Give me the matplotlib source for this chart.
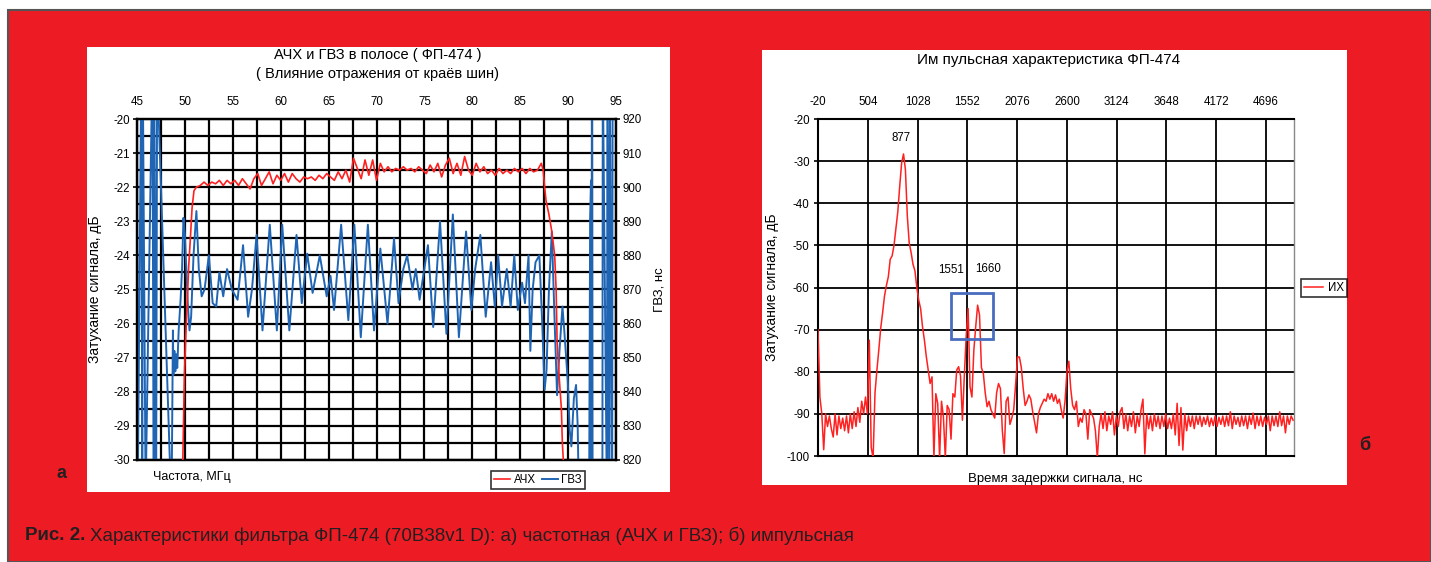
import numpy as np
import matplotlib
matplotlib.use("Agg")
import matplotlib.pyplot as plt
from matplotlib.patches import Rectangle

plt.rcParams["axes.unicode_minus"] = False

# ---------------- DATA ----------------
# Left chart: АЧХ (dB) vs frequency (MHz)
ach_edge_left_f = [49.75, 49.85, 49.95, 50.1, 50.25, 50.4, 50.55, 50.75, 50.95]
ach_edge_left_v = [-30.5, -29.0, -27.5, -26.3, -25.3, -24.3, -23.6, -22.6, -22.1]
ach_band_f0, ach_band_step = 51.2, 0.4
ach_band_v = [-22.0, -21.95, -21.85, -21.95, -21.85, -21.9, -21.8, -21.95, -21.8, -21.9,
              -21.8, -21.95, -21.75, -21.9, -22.05, -21.75, -21.6, -21.95, -21.75, -21.55,
              -21.9, -21.65, -21.8, -21.6, -21.85, -21.6, -21.75, -21.85, -21.7, -21.75,
              -21.7, -21.8, -21.65, -21.75, -21.6, -21.7, -21.8, -21.55, -21.75, -21.5,
              -21.85, -21.15, -21.45, -21.75, -21.2, -21.65, -21.2, -21.8, -21.3, -21.55,
              -21.4, -21.55, -21.45, -21.5, -21.4, -21.5, -21.45, -21.55, -21.4, -21.5,
              -21.6, -21.35, -21.55, -21.3, -21.7, -21.35, -21.15, -21.6, -21.3, -21.65,
              -21.1, -21.5, -21.65, -21.3, -21.55, -21.4, -21.6, -21.5, -21.65, -21.45,
              -21.6, -21.5, -21.6, -21.45, -21.55, -21.45, -21.6, -21.45, -21.55, -21.5,
              -21.3]
ach_edge_right_f = [87.4, 87.55, 87.7, 88.0, 88.3, 88.6, 88.75, 88.85, 89.05, 89.3, 89.4, 89.6]
ach_edge_right_v = [-21.5, -22.0, -22.4, -22.8, -23.3, -24.0, -25.0, -26.5, -27.5, -28.5, -29.5, -30.5]

# Left chart: ГВЗ (ns) vs frequency (MHz)
gvz_f = [45.0, 45.08, 45.45, 45.55, 45.6, 45.9, 46.6, 46.75, 46.8, 47.0, 47.1, 48.6,
         48.75, 48.8, 48.9, 49.0, 49.1, 49.2, 49.35, 49.55, 49.7, 49.85, 50.0, 50.15,
         50.3, 50.48, 50.65, 50.9, 51.2, 51.45, 51.75, 52.05, 52.5, 52.9, 53.27, 53.6,
         54.0, 54.4, 54.9, 55.5, 56.07, 56.6, 57.0, 57.48, 58.1, 58.86, 59.6, 60.16,
         60.9, 61.65, 62.2, 62.77, 63.33, 64.08, 64.8, 65.2, 65.57, 66.31, 67.06, 67.69,
         68.36, 69.1, 69.74, 70.4, 71.15, 71.83, 72.3, 72.8, 73.2, 73.76, 74.1, 74.5,
         75.37, 75.92, 76.63, 77.3, 77.97, 78.6, 79.35, 79.9, 80.3, 80.84, 81.4, 81.96,
         82.35, 82.7, 83.1, 83.6, 84.0, 84.38, 84.75, 85.2, 85.5, 85.87, 86.06, 86.3,
         86.6, 87.0, 87.3, 87.55, 87.75, 88.0, 88.3, 88.6, 88.85, 89.1, 89.41, 89.6,
         89.97, 90.16, 90.34, 90.6, 90.83, 91.0, 91.09, 92.2, 92.3, 92.39, 92.45, 92.5,
         92.55, 93.58, 93.62, 94.06, 94.1, 94.3, 94.35, 94.6, 94.65, 95.0]
gvz_ns = [917, 810, 935, 810, 935, 810, 935, 810, 935, 810, 935, 805,
          858, 845, 852, 846, 851, 847, 858, 867, 876, 891, 886, 876,
          866, 858, 862, 880, 893, 876, 868, 870, 880, 866, 865, 875,
          868, 876, 870, 867, 883, 862, 870, 886, 858, 889, 858, 889,
          858, 886, 866, 880.5, 869, 880, 868, 874, 864, 889, 861, 889,
          856, 889, 858, 882, 860, 885, 866, 876, 880, 870, 876, 867,
          883, 859, 890, 857, 892, 856, 887, 864, 876, 886, 862, 878,
          865, 880, 865, 876, 865, 880, 864, 872, 866, 880, 852, 870,
          878, 880, 860, 840.6, 846.5, 870, 887, 860, 839, 852, 865, 858,
          843, 829, 824, 838, 842, 830, 815, 812, 891, 902, 810, 935,
          805, 810, 935, 805, 935, 805, 935, 805, 935, 935]

# Right chart: ИХ (dB) sampled every 20 ns starting at -20 ns
ih_t0, ih_dt = -20, 20
ih_v = [-70, -86, -90, -98.5, -90, -93, -90.5, -93.5, -95.5, -90,
        -95, -90.5, -93.5, -91, -94, -90.5, -94.5, -90, -93.5, -89.5,
        -93, -88.5, -92, -87, -90, -86, -90, -72.5, -98, -100.5,
        -85, -79.6, -74.8, -69.7, -66, -62, -59.5, -57.5, -53.3, -52.5,
        -50, -46, -42, -36, -30.5, -28.3, -32, -43, -49.4, -51.7,
        -54.5, -56, -60, -63, -65, -69.3, -72.5, -76.4, -79.6, -82.8,
        -81.2, -100.5, -85.2, -87.5, -100.5, -87, -90.7, -100.5, -88, -89,
        -96, -85.2, -86, -79.6, -78.8, -81, -91.5, -81, -71.5, -65,
        -83.6, -86, -75, -69.3, -64.2, -66.5, -79, -80.4, -85, -88.3,
        -87, -89, -90, -91, -85, -82.8, -84, -93.9, -99.4, -87,
        -86, -92.5, -91, -89, -83, -76.5, -76.5, -79, -84, -88,
        -87, -85.5, -86.5, -89.5, -92, -94.5, -90, -88.5, -87.5, -86.5,
        -87, -85.2, -86.5, -85.2, -87, -85.5, -87.5, -86.5, -89, -91,
        -87, -80, -77.5, -84, -88, -89, -87, -93, -91, -92,
        -89, -90, -96, -89, -90, -91, -94, -100.5, -93, -90,
        -93.5, -89.5, -94, -90.5, -92.5, -89.5, -95, -90.5, -93, -89.5,
        -88.5, -93.5, -90, -94, -90.5, -93, -89.5, -94.5, -90.5, -93,
        -89, -86.5, -99.5, -90, -93.5, -90.5, -94, -90, -93, -90.5,
        -93.5, -90.5, -93, -90, -93.5, -91, -93.5, -90, -95, -87.5,
        -97.5, -88.5, -98.6, -90, -94, -90.5, -93, -90.5, -93.5, -90.5,
        -92.5, -90.5, -93, -90.8, -92.5, -90.5, -93, -91, -92.8, -90.5,
        -93, -90.8, -92.5, -90.5, -93, -90.5, -92.8, -89.5, -93.5, -90.5,
        -92.5, -90.8, -93, -90.5, -92.8, -90.5, -93.5, -90.5, -92.5, -89.8,
        -93.5, -90.5, -92.8, -90.5, -93, -90.8, -92.5, -90.5, -94, -90.5,
        -92.8, -90.5, -93, -89.5, -92.8, -90.5, -94.5, -90.5, -92.5, -90.5,
        -91.5]
ih_peak_t = [877, 1551, 1660]
ih_peak_v = [-28.3, -65.0, -64.2]
ih_box = (1375, -72.3, 452, 11.1)   # x, y, width, height in data units

left_xticks = [45, 50, 55, 60, 65, 70, 75, 80, 85, 90, 95]
left_yticks = [-20, -21, -22, -23, -24, -25, -26, -27, -28, -29, -30]
right2_yticks = [920, 910, 900, 890, 880, 870, 860, 850, 840, 830, 820]
ih_xticks = [-20, 504, 1028, 1552, 2076, 2600, 3124, 3648, 4172, 4696]
ih_yticks = [-20, -30, -40, -50, -60, -70, -80, -90, -100]

# ---------------- FIGURE ----------------
W, H = 1431, 562
fig = plt.figure(figsize=(W / 100, H / 100), dpi=100)
fig.patch.set_facecolor("white")

RED = "#ED1C24"
BLUE = "#1F65B4"
LRED = "#FF2020"
TXT = "#231F20"
FONT = ["Liberation Sans", "DejaVu Sans"]
TICK = 8.3

def px(x, y):
    return x / W, 1 - y / H

def rect_px(x0, y0, x1, y1):
    return [x0 / W, 1 - y1 / H, (x1 - x0) / W, (y1 - y0) / H]

# red panel with grey border
fig.patches.append(Rectangle(px(8, 562), (W - 8) / W, (562 - 10) / H, transform=fig.transFigure,
                             facecolor=RED, edgecolor="#555555", linewidth=1.5, zorder=-3))
# white chart backgrounds
for (x0, y0, x1, y1) in [(87, 47, 670, 492), (762, 50, 1347, 485)]:
    r = rect_px(x0, y0, x1, y1)
    fig.patches.append(Rectangle((r[0], r[1]), r[2], r[3], transform=fig.transFigure,
                                 facecolor="white", edgecolor="none", zorder=-2))

# ---------------- LEFT CHART ----------------
axg = fig.add_axes(rect_px(137, 119, 616, 460))
axa = axg.twinx()

gvz_line, = axg.plot(gvz_f, gvz_ns, color=BLUE, lw=1.4, zorder=3)
axg.set_xlim(45, 95)
axg.set_ylim(820, 920)
axg.set_xticks(left_xticks)
axg.set_xticks(np.arange(47.5, 95, 5), minor=True)
axg.set_yticks(right2_yticks)
axg.set_yticks(np.arange(825, 920, 10), minor=True)
axg.grid(True, which="both", color="black", lw=1.6)
axg.set_axisbelow(True)
axg.xaxis.tick_top()
axg.yaxis.tick_right()
axg.yaxis.set_label_position("right")
axg.tick_params(axis="x", which="major", top=False, labeltop=True, bottom=False,
                labelbottom=False, length=0, pad=8, labelsize=TICK)
axg.tick_params(axis="both", which="minor", length=0)
axg.tick_params(axis="y", which="major", right=True, left=False, length=3, width=1.2,
                pad=2, labelsize=TICK, labelright=True, labelleft=False)
axg.set_ylabel("ГВЗ, нс", fontsize=9.5, family=FONT)
axg.yaxis.set_label_coords((653 - 137) / 479, 0.5)

ach_f = ach_edge_left_f + list(ach_band_f0 + ach_band_step * np.arange(len(ach_band_v))) + ach_edge_right_f
ach_v = ach_edge_left_v + ach_band_v + ach_edge_right_v
ach_line, = axa.plot(ach_f, ach_v, color=LRED, lw=1.2, zorder=4)
axa.set_ylim(-30, -20)
axa.set_yticks(left_yticks)
axa.yaxis.tick_left()
axa.yaxis.set_label_position("left")
axa.tick_params(axis="y", which="major", left=True, right=False, labelleft=True,
                labelright=False, length=3, width=1.2, pad=2, labelsize=TICK)
axa.set_ylabel("Затухание сигнала, дБ", fontsize=10, family=FONT)
axa.yaxis.set_label_coords((102 - 137) / 479, 0.5)

for a in (axg, axa):
    for s in a.spines.values():
        s.set_color("black")
        s.set_linewidth(1.6)
    for lab in a.get_xticklabels() + a.get_yticklabels():
        lab.set_family(FONT)

fig.text(*px(378, 55), "АЧХ и ГВЗ в полосе ( ФП-474 )", ha="center", va="center",
         fontsize=10.5, family=FONT, color="black")
fig.text(*px(378, 74), "( Влияние отражения от краёв шин)", ha="center", va="center",
         fontsize=10.5, family=FONT, color="black")
fig.text(*px(153, 477), "Частота, МГц", ha="left", va="center", fontsize=9,
         family=FONT, color="black")

leg1 = fig.legend([ach_line, gvz_line], ["АЧХ", "ГВЗ"], loc="center",
                  bbox_to_anchor=px(538, 480), ncol=2, frameon=True, fancybox=False,
                  prop={"family": FONT, "size": 8.3}, handlelength=1.4, handletextpad=0.3,
                  columnspacing=0.5, borderpad=0.3, borderaxespad=0)
leg1.get_frame().set_edgecolor("black")
leg1.get_frame().set_linewidth(1.2)

# ---------------- RIGHT CHART ----------------
axi = fig.add_axes(rect_px(818, 119, 1294, 456))
ih_t = ih_t0 + ih_dt * np.arange(len(ih_v))
ih_line, = axi.plot(ih_t, ih_v, color=LRED, lw=1.1, zorder=3)
axi.set_xlim(-20, 4990)
axi.set_ylim(-100, -20)
axi.set_xticks(ih_xticks)
axi.set_yticks(ih_yticks)
axi.grid(True, color="black", lw=1.3)
axi.set_axisbelow(True)
axi.xaxis.tick_top()
axi.tick_params(axis="x", top=False, labeltop=True, bottom=False, labelbottom=False,
                length=0, pad=8, labelsize=TICK)
axi.tick_params(axis="y", length=3, width=1.2, pad=3, labelsize=TICK)
for lab in axi.get_xticklabels() + axi.get_yticklabels():
    lab.set_family(FONT)
for name, s in axi.spines.items():
    s.set_color("black" if name in ("left", "bottom", "top") else "#888888")
    s.set_linewidth(1.5 if name != "right" else 1.0)
axi.set_ylabel("Затухание сигнала, дБ", fontsize=10, family=FONT)
axi.yaxis.set_label_coords((779 - 818) / 476, 0.5)
axi.set_xlabel("Время задержки сигнала, нс", fontsize=9.5, family=FONT)
axi.xaxis.set_label_position("bottom")
axi.xaxis.set_label_coords((1055 - 818) / 476, -(473 - 456) / 337)

bx, by, bw, bh = ih_box
axi.add_patch(Rectangle((bx, by), bw, bh, fill=False, edgecolor="#4A6CC0", lw=2, zorder=5))

label_offsets = [(-2, 16), (-16, 39), (10, 36)]
for t, v, (dx, dy) in zip(ih_peak_t, ih_peak_v, label_offsets):
    axi.annotate(str(t), (t, v), xytext=(dx, dy), textcoords="offset pixels",
                 ha="center", va="center", fontsize=TICK, family=FONT)

fig.text(*px(1049, 60), "Им пульсная характеристика ФП-474", ha="center", va="center",
         fontsize=11, family=FONT, color="black")

leg2 = fig.legend([ih_line], ["ИХ"], loc="center", bbox_to_anchor=px(1324, 288),
                  frameon=True, fancybox=False, prop={"family": FONT, "size": 8.3},
                  handlelength=1.6, handletextpad=0.4, borderpad=0.3, borderaxespad=0)
leg2.get_frame().set_edgecolor("black")
leg2.get_frame().set_linewidth(1.2)

# ---------------- PANEL LETTERS & CAPTION ----------------
CAPF = ["Liberation Sans Narrow", "Liberation Sans", "DejaVu Sans"]
fig.text(*px(62, 474), "а", ha="center", va="center", fontsize=13, weight="bold",
         family=CAPF, color=TXT)
fig.text(*px(1365, 445), "б", ha="center", va="center", fontsize=13, weight="bold",
         family=CAPF, color=TXT)

t1 = fig.text(*px(25, 536), "Рис. 2.", ha="left", va="center", fontsize=13.5,
              weight="bold", family=CAPF, color=TXT)
fig.canvas.draw()
bb = t1.get_window_extent(renderer=fig.canvas.get_renderer())
fig.text(bb.x1 / W + 5 / W, 1 - 536 / H,
         "Характеристики фильтра ФП-474 (70В38v1 D): а) частотная (АЧХ и ГВЗ); б) импульсная",
         ha="left", va="center", fontsize=13.5, family=CAPF, color=TXT)

fig.savefig("out.png", dpi=100, facecolor="white")
